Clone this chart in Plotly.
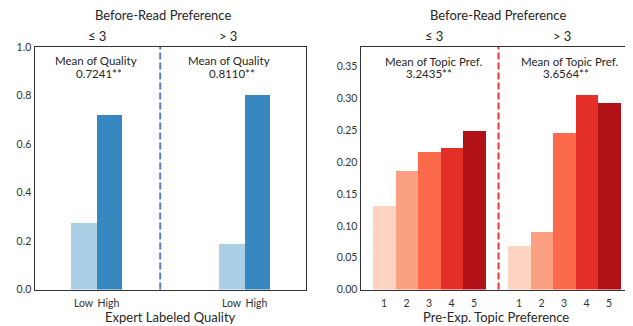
import plotly.graph_objects as go

# ---------------- data ----------------
groups = ["≤ 3", "> 3"]                      # before-read preference groups
quality_levels = ["Low", "High"]
quality_low = [0.273, 0.187]
quality_high = [0.719, 0.802]
quality_means = ["0.7241**", "0.8110**"]

topic_prefs = [1, 2, 3, 4, 5]
topic_le3 = [0.131, 0.186, 0.216, 0.222, 0.249]
topic_gt3 = [0.068, 0.090, 0.246, 0.305, 0.293]
topic_means = ["3.2435**", "3.6564**"]

blues = ["#abd0e6", "#3787c0"]
reds = ["#fdd4c2", "#fca082", "#fb6a4a", "#e32f27", "#b11218"]

# page has an 8px body margin: figure is drawn inside it
OFF = 8
W, H = 633 - OFF, 326 - OFF
FONT = "Lato"
TXT = "#262626"


def px(x):
    return (x - OFF) / W


def py(y):
    return 1 - (y - OFF) / H


fig = go.Figure()

# ---------------- left panel ----------------
bw = 0.169
q_vals = [quality_low, quality_high]
offsets = [-bw / 2, bw / 2]
tickvals_l, ticktext_l = [], []
for li, lvl in enumerate(quality_levels):
    xs = [gi + offsets[li] for gi in range(len(groups))]
    fig.add_trace(go.Bar(x=xs, y=q_vals[li], width=bw, marker_color=blues[li],
                         marker_line_width=0, name=lvl, showlegend=False,
                         xaxis="x", yaxis="y"))
for gi in range(len(groups)):
    for li, lvl in enumerate(quality_levels):
        tickvals_l.append(gi + offsets[li])
        ticktext_l.append(lvl)

# ---------------- right panel ----------------
t_vals = [topic_le3, topic_gt3]
tickvals_r, ticktext_r = [], []
for gi in range(len(groups)):
    xs = [p + 6 * gi for p in topic_prefs]
    fig.add_trace(go.Bar(x=xs, y=t_vals[gi], width=1.0, marker_color=reds,
                         marker_line_width=0, showlegend=False,
                         xaxis="x2", yaxis="y2"))
    tickvals_r += xs
    ticktext_r += [str(p) for p in topic_prefs]

ydom = [py(289.5), py(47)]
axis_common = dict(showline=True, mirror=True, linecolor="#333333", linewidth=1.3,
                   showgrid=False, zeroline=False, ticks="", automargin=False,
                   tickfont=dict(family=FONT, size=10.5, color="#333333"))

fig.update_layout(
    width=W, height=H, margin=dict(l=0, r=0, t=0, b=0, autoexpand=False),
    paper_bgcolor="white", plot_bgcolor="white", bargap=0,
    font=dict(family=FONT, color=TXT),
    xaxis=dict(domain=[px(34.5), px(305.5)], range=[-0.4155, 1.4155],
               tickvals=tickvals_l, ticktext=ticktext_l, ticklabelstandoff=4,
               **axis_common),
    yaxis=dict(domain=ydom, range=[0, 1.0], tickvals=[0, 0.2, 0.4, 0.6, 0.8, 1.0],
               tickformat=".1f", **axis_common),
    xaxis2=dict(domain=[px(360.7), px(632)], range=[-0.035, 12.02],
                tickvals=tickvals_r, ticktext=ticktext_r, ticklabelstandoff=4,
                anchor="y2", **axis_common),
    yaxis2=dict(domain=ydom, range=[0, 0.381],
                tickvals=[0, 0.05, 0.1, 0.15, 0.2, 0.25, 0.3, 0.35], tickformat=".2f",
                anchor="x2", **axis_common),
)

# dashed separators
fig.add_shape(type="line", xref="x", yref="y domain", x0=0.434, x1=0.434, y0=0, y1=1,
              line=dict(color="#5a7dbf", width=2, dash="7px,3px"))
fig.add_shape(type="line", xref="x2", yref="y2 domain", x0=6.09, x1=6.09, y0=0, y1=1,
              line=dict(color="#e8363b", width=2, dash="7px,3px"))

ann = []


def text(x, y, s, size=12):
    ann.append(dict(x=px(x), y=py(y), xref="paper", yref="paper", text=s, showarrow=False,
                    xanchor="center", yanchor="middle", font=dict(family=FONT, size=size, color=TXT)))


# titles
text(162.5, 15, "Before-Read Preference", 13)
text(497.5, 15, "Before-Read Preference", 13)
# group labels on top
text(97, 36, groups[0], 13)
text(228, 36, groups[1], 13)
text(434, 36, groups[0], 13)
text(562, 36, groups[1], 13)
# means
text(95.5, 61, "Mean of Quality", 11.5)
text(99, 73, quality_means[0], 11.5)
text(229, 61, "Mean of Quality", 11.5)
text(232, 73, quality_means[1], 11.5)
text(433.5, 61.5, "Mean of Topic Pref.", 11.5)
text(429, 73.5, topic_means[0], 11.5)
text(570, 61.5, "Mean of Topic Pref.", 11.5)
text(565.5, 73.5, topic_means[1], 11.5)
# axis titles
text(170, 317, "Expert Labeled Quality", 13)
text(496.3, 317, "Pre-Exp. Topic Preference", 13)

fig.update_layout(annotations=ann)
fig.write_html("out.html")
